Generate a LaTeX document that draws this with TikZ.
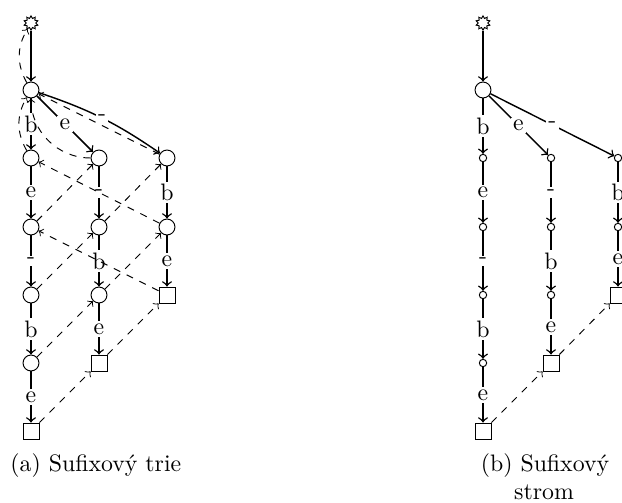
\documentclass[tikz,border=0pt]{standalone}
\usepackage{fontspec}
\usetikzlibrary{shapes.geometric}
\begin{document}
\begin{tikzpicture}[x=0.42pt,y=-0.42pt,
  st/.style={star,star points=10,star point ratio=1.5,draw,minimum size=6pt,inner sep=0pt},
  inode/.style={circle,draw,minimum size=6.7pt,inner sep=0pt},
  sq/.style={rectangle,draw,minimum size=6.7pt,inner sep=0pt},
  sm/.style={circle,draw,minimum size=3.1pt,inner sep=0pt},
  ed/.style={->,semithick},
  lk/.style={->,dashed,thin},
  lab/.style={fill=white,inner sep=1pt,midway}]
\useasboundingbox (0,0) rectangle (622,502);
% ---------- (a) suffix trie ----------
\node[st] (s) at (31,23) {};
\node[inode] (r) at (31,90) {};
\node[inode] (a1) at (31,158) {};
\node[inode] (a2) at (31,227) {};
\node[inode] (a3) at (31,295) {};
\node[inode] (a4) at (31,363) {};
\node[sq] (a5) at (31,431) {};
\node[inode] (b1) at (99,158) {};
\node[inode] (b2) at (99,227) {};
\node[inode] (b3) at (99,295) {};
\node[sq] (b4) at (99,363) {};
\node[inode] (c1) at (167,158) {};
\node[inode] (c2) at (167,227) {};
\node[sq] (c3) at (167,295) {};
\draw[ed] (s) -- (r);
\draw[ed] (r) -- node[lab]{b} (a1);
\draw[ed] (a1) -- node[lab]{e} (a2);
\draw[ed] (a2) -- node[lab]{-} (a3);
\draw[ed] (a3) -- node[lab]{b} (a4);
\draw[ed] (a4) -- node[lab]{e} (a5);
\draw[ed] (r) -- node[lab]{e} (b1);
\draw[ed] (b1) -- node[lab]{-} (b2);
\draw[ed] (b2) -- node[lab]{b} (b3);
\draw[ed] (b3) -- node[lab]{e} (b4);
\draw[ed] (r) to[bend left=8] node[lab]{-} (c1);
\draw[ed] (c1) -- node[lab]{b} (c2);
\draw[ed] (c2) -- node[lab]{e} (c3);
\draw[lk] (r) to[bend left=30] (s);
\draw[lk] (a1) to[bend left=30] (r);
\draw[lk] (b1) to[bend left=45] (r);
\draw[lk] (c1) -- (r);
\draw[lk] (a2) -- (b1);
\draw[lk] (b2) -- (c1);
\draw[lk] (c2) -- (a1);
\draw[lk] (a3) -- (b2);
\draw[lk] (b3) -- (c2);
\draw[lk] (c3) -- (a2);
\draw[lk] (a4) -- (b3);
\draw[lk] (b4) -- (c3);
\draw[lk] (a5) -- (b4);
% ---------- (b) suffix tree ----------
\node[st] (t) at (483,23) {};
\node[inode] (q) at (483,90) {};
\node[sm] (d1) at (483,158) {};
\node[sm] (d2) at (483,227) {};
\node[sm] (d3) at (483,295) {};
\node[sm] (d4) at (483,363) {};
\node[sq] (d5) at (483,431) {};
\node[sm] (e1) at (551,158) {};
\node[sm] (e2) at (551,227) {};
\node[sm] (e3) at (551,295) {};
\node[sq] (e4) at (551,363) {};
\node[sm] (f1) at (618,158) {};
\node[sm] (f2) at (618,227) {};
\node[sq] (f3) at (618,295) {};
\draw[ed] (t) -- (q);
\draw[ed] (q) -- node[lab]{b} (d1);
\draw[ed] (d1) -- node[lab]{e} (d2);
\draw[ed] (d2) -- node[lab]{-} (d3);
\draw[ed] (d3) -- node[lab]{b} (d4);
\draw[ed] (d4) -- node[lab]{e} (d5);
\draw[ed] (q) -- node[lab]{e} (e1);
\draw[ed] (e1) -- node[lab]{-} (e2);
\draw[ed] (e2) -- node[lab]{b} (e3);
\draw[ed] (e3) -- node[lab]{e} (e4);
\draw[ed] (q) -- node[lab]{-} (f1);
\draw[ed] (f1) -- node[lab]{b} (f2);
\draw[ed] (f2) -- node[lab]{e} (f3);
\draw[lk] (d5) -- (e4);
\draw[lk] (e4) -- (f3);
% ---------- captions ----------
\node[anchor=base west,inner sep=0pt] (capa) at (10,471) {(a) Sufixový trie};
\node[anchor=base,inner sep=0pt] (capb1) at (545,471) {(b) Sufixový};
\node[anchor=base,inner sep=0pt] (capb2) at (544,499) {strom};
\end{tikzpicture}
\end{document}
